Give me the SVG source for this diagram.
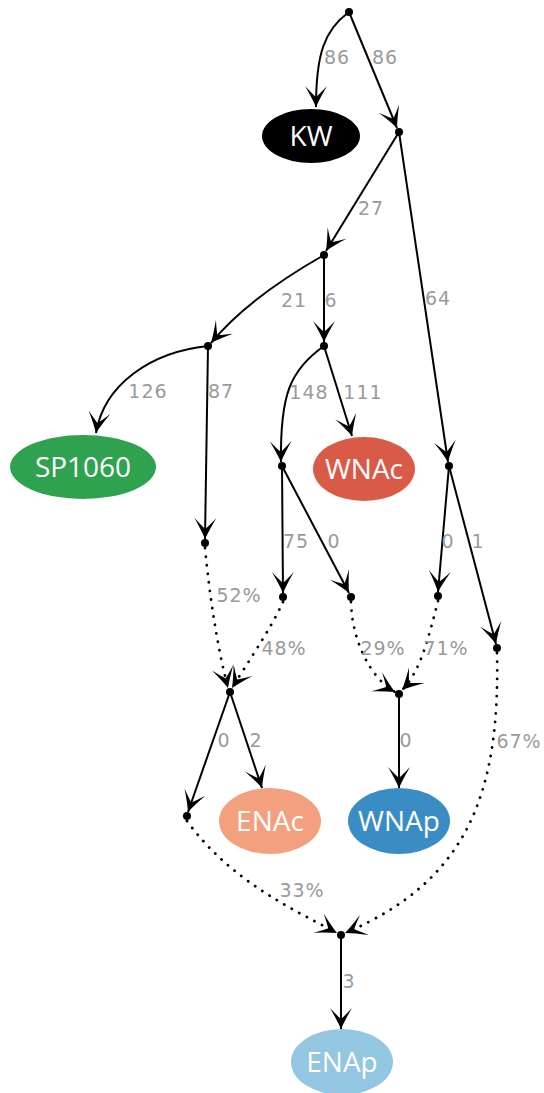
<svg xmlns="http://www.w3.org/2000/svg" width="544" height="1093" viewBox="0 0 544 1093">
<style>
.e{fill:none;stroke:#000;stroke-width:2;marker-end:url(#vee)}
.d{fill:none;stroke:#000;stroke-width:2.8;stroke-dasharray:0.1 8.5;stroke-linecap:round;marker-end:url(#vee)}
.lb{font-family:"DejaVu Sans",sans-serif;font-size:19px;fill:#9a9a9a;text-anchor:middle;letter-spacing:1px}
.nt{font-family:"Open Sans",sans-serif;font-size:28px;fill:#fff;text-anchor:middle}
.pt{fill:#000}
</style>
<defs>
<marker id="vee" viewBox="-22 -12 23 24" refX="0" refY="0" markerWidth="23" markerHeight="24" markerUnits="userSpaceOnUse" orient="auto">
<path d="M0,0 Q-9,-4 -21,-11 Q-13,-3.5 -10,0 Q-13,3.5 -21,11 Q-9,4 0,0 Z" fill="#000"/>
</marker>
</defs>
<rect width="544" height="1093" fill="#fff"/>
<g id="connectors">
<path class="e" d="M349,12 C324,30 316,55 316,107"/>
<path class="e" d="M349,12 L397,128"/>
<path class="e" d="M399,132 L326,251"/>
<path class="e" d="M399,132 L448,462"/>
<path class="e" d="M324,255 C280,280 240,308 211,343"/>
<path class="e" d="M324,255 L324,342"/>
<path class="e" d="M208,346 C150,352 104,385 96,433"/>
<path class="e" d="M208,346 L205,539"/>
<path class="e" d="M324,346 C290,370 280,395 281,462"/>
<path class="e" d="M324,346 L352,436"/>
<path class="e" d="M282,466 L283,593"/>
<path class="e" d="M282,466 L349,593"/>
<path class="e" d="M449,466 L438,592"/>
<path class="e" d="M449,466 L496,644"/>
<path class="d" d="M205,548 C210,600 218,650 228,688"/>
<path class="d" d="M283,602 C270,630 248,662 232,688"/>
<path class="d" d="M351,602 C352,640 370,678 395,692"/>
<path class="d" d="M438,601 C428,640 420,672 402,690"/>
<path class="d" d="M497,653 C500,790 470,880 345,933"/>
<path class="e" d="M230,692 L188,812"/>
<path class="e" d="M230,692 L262,788"/>
<path class="e" d="M399,694 L399,788"/>
<path class="d" d="M187,821 C230,880 290,908 337,933"/>
<path class="e" d="M341,935 L341,1029"/>
</g>
<g id="labels">
<text class="lb" x="337" y="64">86</text>
<text class="lb" x="385" y="64">86</text>
<text class="lb" x="371" y="215">27</text>
<text class="lb" x="438" y="305">64</text>
<text class="lb" x="294" y="307">21</text>
<text class="lb" x="331" y="307">6</text>
<text class="lb" x="148" y="398">126</text>
<text class="lb" x="221" y="398">87</text>
<text class="lb" x="309" y="399">148</text>
<text class="lb" x="363" y="399">111</text>
<text class="lb" x="296" y="548">75</text>
<text class="lb" x="334" y="548">0</text>
<text class="lb" x="448" y="548">0</text>
<text class="lb" x="478" y="548">1</text>
<text class="lb" x="239" y="602">52%</text>
<text class="lb" x="284" y="655">48%</text>
<text class="lb" x="383" y="655">29%</text>
<text class="lb" x="446" y="655">71%</text>
<text class="lb" x="519" y="748">67%</text>
<text class="lb" x="224" y="747">0</text>
<text class="lb" x="256" y="747">2</text>
<text class="lb" x="406" y="747">0</text>
<text class="lb" x="302" y="897">33%</text>
<text class="lb" x="349" y="988">3</text>
</g>
<g id="points">
<circle class="pt" cx="349" cy="12" r="4"/>
<circle class="pt" cx="399" cy="132" r="4"/>
<circle class="pt" cx="324" cy="255" r="4"/>
<circle class="pt" cx="208" cy="346" r="4"/>
<circle class="pt" cx="324" cy="346" r="4"/>
<circle class="pt" cx="282" cy="466" r="4"/>
<circle class="pt" cx="449" cy="466" r="4"/>
<circle class="pt" cx="205" cy="543" r="4"/>
<circle class="pt" cx="283" cy="597" r="4"/>
<circle class="pt" cx="351" cy="597" r="4"/>
<circle class="pt" cx="438" cy="596" r="4"/>
<circle class="pt" cx="497" cy="648" r="4"/>
<circle class="pt" cx="230" cy="692" r="4"/>
<circle class="pt" cx="399" cy="694" r="4"/>
<circle class="pt" cx="187" cy="816" r="4"/>
<circle class="pt" cx="341" cy="935" r="4"/>
</g>
<g id="KW"><ellipse cx="311" cy="136" rx="49" ry="27" fill="#000"/><text class="nt" x="311" y="146">KW</text></g>
<g id="SP1060"><ellipse cx="83" cy="467" rx="73" ry="32" fill="#2ea24e"/><text class="nt" x="83" y="477">SP1060</text></g>
<g id="WNAc"><ellipse cx="364" cy="469" rx="51" ry="32" fill="#d95a47"/><text class="nt" x="364" y="479">WNAc</text></g>
<g id="ENAc"><ellipse cx="270" cy="821" rx="51" ry="33" fill="#f2a07e"/><text class="nt" x="270" y="831">ENAc</text></g>
<g id="WNAp"><ellipse cx="399" cy="821" rx="51" ry="33" fill="#3a8cc4"/><text class="nt" x="399" y="831">WNAp</text></g>
<g id="ENAp"><ellipse cx="342" cy="1062" rx="51" ry="33" fill="#93c6e0"/><text class="nt" x="342" y="1072">ENAp</text></g>
</svg>
